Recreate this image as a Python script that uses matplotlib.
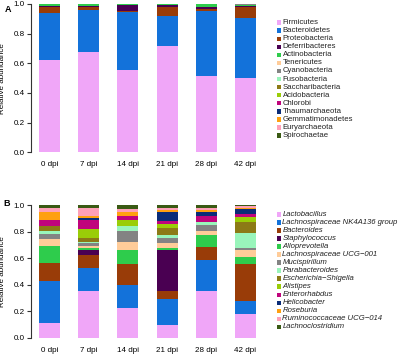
import numpy as np
import matplotlib
matplotlib.use("Agg")
import matplotlib.pyplot as plt
from matplotlib.patches import Rectangle

plt.rcParams['font.family'] = ['Liberation Sans', 'DejaVu Sans']

days = ["0 dpi", "7 dpi", "14 dpi", "21 dpi", "28 dpi", "42 dpi"]

phyla = ["Firmicutes", "Bacteroidetes", "Proteobacteria", "Deferribacteres",
         "Actinobacteria", "Tenericutes", "Cyanobacteria", "Fusobacteria",
         "Saccharibacteria", "Acidobacteria", "Chlorobi", "Thaumarchaeota",
         "Gemmatimonadetes", "Euryarchaeota", "Spirochaetae"]

firmicutes       = [0.620, 0.675, 0.553, 0.720, 0.515, 0.500]
bacteroidetes    = [0.317, 0.285, 0.390, 0.200, 0.435, 0.405]
proteobacteria   = [0.041, 0.022, 0.008, 0.058, 0.013, 0.073]
deferribacteres  = [0.011, 0.005, 0.040, 0.015, 0.020, 0.010]
actinobacteria   = [0.009, 0.011, 0.006, 0.005, 0.014, 0.004]
tenericutes      = [0.001, 0.001, 0.001, 0.001, 0.001, 0.004]
cyanobacteria    = [0.001, 0.001, 0.001, 0.001, 0.001, 0.002]
minor_phyla      = [0.0, 0.0, 0.0, 0.0, 0.0, 0.0]

phyla_values = [firmicutes, bacteroidetes, proteobacteria, deferribacteres,
                actinobacteria, tenericutes, cyanobacteria] + [minor_phyla] * 8

genera = ["Lactobacillus", "Lachnospiraceae NK4A136 group", "Bacteroides",
          "Staphylococcus", "Alloprevotella", "Lachnospiraceae UCG\u2212001",
          "Mucispirillum", "Parabacteroides", "Escherichia\u2212Shigella",
          "Alistipes", "Enterorhabdus", "Helicobacter", "Roseburia",
          "Ruminococcaceae UCG\u2212014", "Lachnoclostridium"]

lactobacillus    = [0.110, 0.355, 0.225, 0.095, 0.355, 0.180]
nk4a136          = [0.315, 0.175, 0.175, 0.195, 0.230, 0.100]
bacteroides      = [0.141, 0.095, 0.160, 0.065, 0.100, 0.280]
staphylococcus   = [0.000, 0.035, 0.000, 0.310, 0.000, 0.000]
alloprevotella   = [0.126, 0.015, 0.100, 0.012, 0.090, 0.050]
ucg001           = [0.050, 0.015, 0.060, 0.038, 0.030, 0.050]
mucispirillum    = [0.042, 0.025, 0.085, 0.038, 0.045, 0.017]
parabacteroides  = [0.023, 0.010, 0.035, 0.024, 0.025, 0.113]
escherichia      = [0.037, 0.025, 0.000, 0.050, 0.000, 0.083]
alistipes        = [0.000, 0.070, 0.045, 0.030, 0.000, 0.037]
enterorhabdus    = [0.043, 0.065, 0.030, 0.020, 0.045, 0.020]
helicobacter     = [0.000, 0.015, 0.000, 0.067, 0.030, 0.043]
roseburia        = [0.058, 0.015, 0.030, 0.018, 0.015, 0.008]
ruminococcaceae  = [0.030, 0.060, 0.025, 0.015, 0.010, 0.009]
lachnoclostridium = [0.025, 0.025, 0.030, 0.023, 0.025, 0.010]

genera_values = [lactobacillus, nk4a136, bacteroides, staphylococcus,
                 alloprevotella, ucg001, mucispirillum, parabacteroides,
                 escherichia, alistipes, enterorhabdus, helicobacter,
                 roseburia, ruminococcaceae, lachnoclostridium]

colors = ["#F0A6F8", "#1372DA", "#993C08", "#4A0052", "#2ECC4C",
          "#FFCC99", "#838383", "#99F5BB", "#8C7A16", "#9ACD08",
          "#C0047C", "#0A2C78", "#FFA010", "#FFA0B8", "#3A5A14"]

W, H = 400, 358
fig = plt.figure(figsize=(W / 100, H / 100), dpi=100)

# pixel geometry
x_axis = 31.0
x_first = 49.5
spacing = 39.2
x_right = 262.0
xl = -(x_first - x_axis) / spacing
xr = (x_right - x_first) / spacing


def make_axes(y0_px, y1_px):
    return fig.add_axes([x_axis / W, (H - y0_px) / H, (x_right - x_axis) / W,
                         (y0_px - y1_px) / H])


def draw_panel(ax, values, labels, italic, leg_y0, letter, letter_xy):
    x = np.arange(len(days))
    bottom = np.zeros(len(days))
    for vals, c in zip(values, colors):
        v = np.array(vals, dtype=float)
        ax.bar(x, v, width=0.54, bottom=bottom, color=c, linewidth=0)
        bottom += v
    ax.set_xlim(xl, xr)
    ax.set_ylim(0, 1)
    for s in ["top", "right", "bottom"]:
        ax.spines[s].set_visible(False)
    ax.spines["left"].set_bounds(0, 1)
    ax.spines["left"].set_linewidth(0.8)
    ax.spines["left"].set_color("#333333")
    ax.set_yticks([0, 0.2, 0.4, 0.6, 0.8, 1.0])
    ax.set_yticklabels(["0.0", "0.2", "0.4", "0.6", "0.8", "1.0"])
    ax.tick_params(axis="y", length=3, width=0.8, pad=1.5, labelsize=5.8,
                   color="#333333")
    ax.set_xticks(x)
    ax.set_xticklabels(days)
    ax.tick_params(axis="x", length=0, pad=6.5, labelsize=5.8)
    ax.set_ylabel("Relative abundance", fontsize=5.8)
    ax.yaxis.set_label_coords(-(x_axis - 6) / (x_right - x_axis), 0.5)
    # legend
    for i, (lab, c) in enumerate(zip(labels, colors)):
        yc = leg_y0 + i * 8.05
        fig.patches.append(Rectangle((276.5 / W, (H - yc - 2.3) / H),
                                     4.6 / W, 4.6 / H, color=c,
                                     transform=fig.transFigure, linewidth=0))
        fig.text(282.5 / W, (H - yc) / H, lab, fontsize=5.6, va="center",
                 ha="left", style="italic" if italic else "normal",
                 color="#222222")
    fig.text(letter_xy[0] / W, (H - letter_xy[1]) / H, letter,
             fontsize=6.5, fontweight="bold", ha="left", va="center")


axA = make_axes(152.3, 4.0)
draw_panel(axA, phyla_values, phyla, False, 22.7, "A", (4.5, 10))

axB = make_axes(338.0, 205.0)
draw_panel(axB, genera_values, genera, True, 214.3, "B", (3.5, 204))

fig.savefig("out.png", dpi=100)
